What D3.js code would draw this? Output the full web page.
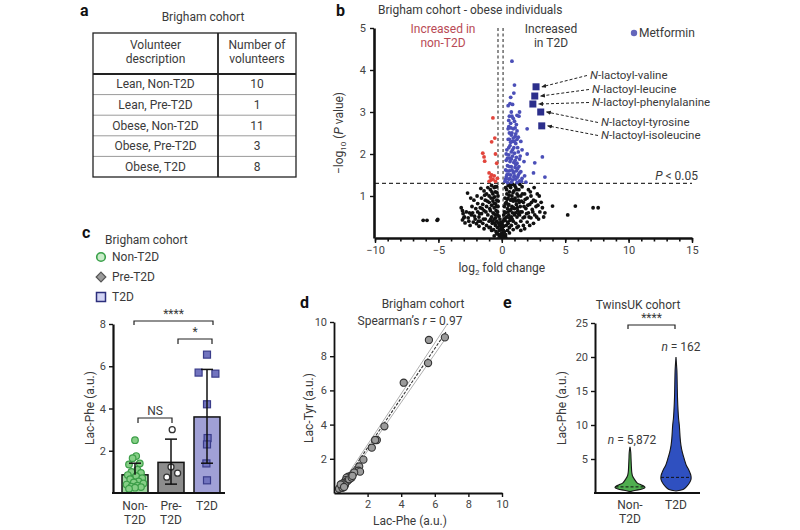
<!DOCTYPE html>
<html><head><meta charset="utf-8">
<script src="https://cdn.jsdelivr.net/npm/d3@7"></script>
<style>
body{margin:0;background:#fff}
text{font-family:Roboto,'Liberation Sans',Arial,sans-serif;fill:#3a3a3a}
</style>
</head><body>
<svg id="fig" width="800" height="530" xmlns="http://www.w3.org/2000/svg"></svg>
<script>
// ---------------- DATA ----------------
// Panel a
const tableHeader = [["Volunteer","description"],["Number of","volunteers"]];
const tableGroups = ["Lean, Non-T2D","Lean, Pre-T2D","Obese, Non-T2D","Obese, Pre-T2D","Obese, T2D"];
const tableCounts = [10,1,11,3,8];

// Panel b (log2 fold change, -log10 P)
const volcanoNS = [[-6.2,0.42],[-5.9,0.42],[-5.1,0.42],[-5.05,0.44],
[-3.2,0.72],[-3.1,0.65],[-3.0,0.48],[-3.1,0.43],[-2.9,0.36],[-2.7,1.07],[-2.6,0.4],[-2.5,0.3],[-2.4,0.55],[-2.3,0.6],[-2.2,0.9],[-2.1,0.45],[-2.0,0.34],[-1.9,0.82],[-1.9,0.62],[-1.8,0.5],[-1.8,0.28],[-1.7,0.72],[-1.7,0.4],[-1.6,0.95],[-1.6,0.58],[-1.5,0.35],[-1.5,0.8],[-1.4,0.65],[-1.4,1.12],[-1.3,0.45],[-1.3,0.9],[-1.2,0.3],[-1.2,0.75],[-1.2,1.05],[-1.1,0.55],[-1.1,1.2],[-1.0,0.4],[-1.0,0.85],[-1.0,1.0],[-0.9,0.25],[-0.9,0.65],[-0.9,1.15],[-0.85,0.95],[-0.8,0.5],[-0.8,0.78],[-0.8,1.25],[-0.75,0.35],[-0.7,0.6],[-0.7,1.05],[-0.7,0.88],[-0.65,0.2],[-0.6,0.45],[-0.6,0.72],[-0.6,1.2],[-0.55,0.98],[-0.5,0.3],[-0.5,0.55],[-0.5,0.82],[-0.5,1.1],[-0.45,0.15],[-0.45,0.65],[-0.4,0.4],[-0.4,0.9],[-0.4,1.22],[-0.35,0.25],[-0.35,0.55],[-0.3,0.1],[-0.3,0.75],[-0.3,1.0],[-0.25,0.35],[-0.2,0.05],[-0.2,0.18],[-0.15,0.45],[-0.1,0.08],[-0.1,0.28],[-0.05,0.02],[0,0.12],[0,0.35],[0.05,0.05],[0.05,0.2],[0.1,0.4],[0.1,0.1],[0.15,0.28],[0.15,0.55],[0.2,0.02],[0.2,0.15],[0.2,0.75],[0.25,0.42],[0.25,0.95],[0.3,0.08],[0.3,0.6],[0.3,1.2],[0.35,0.3],[0.35,0.85],[0.4,0.5],[0.4,1.05],[0.45,0.18],[0.45,0.7],[0.5,0.35],[0.5,0.95],[0.5,1.25],[0.55,0.55],[0.55,0.8],[0.6,0.25],[0.6,1.1],[0.65,0.65],[0.65,0.42],[0.7,0.9],[0.7,1.2],[0.75,0.5],[0.75,0.3],[0.8,0.75],[0.8,1.0],[0.85,0.6],[0.85,1.28],[0.9,0.4],[0.9,0.88],[0.95,1.12],[1.0,0.55],[1.0,0.7],[1.05,0.95],[1.1,0.35],[1.1,1.2],[1.15,0.8],[1.2,0.5],[1.2,1.05],[1.25,0.65],[1.3,0.9],[1.3,0.28],[1.35,1.15],[1.4,0.55],[1.45,0.75],[1.5,1.0],[1.5,0.4],[1.6,0.62],[1.6,1.22],[1.7,0.85],[1.7,0.3],[1.8,0.5],[1.8,1.05],[1.9,0.7],[2.0,0.95],[2.0,0.38],[2.1,1.15],[2.1,0.6],[2.2,0.8],[2.3,0.48],[2.3,1.0],[2.4,0.68],[2.5,0.9],[2.5,0.35],[2.6,0.55],[2.7,0.75],[2.8,1.05],[2.9,0.45],[3.0,0.62],[3.1,0.85],[3.3,0.5],[3.4,0.6],[4.0,0.76],[5.2,0.55],[5.8,0.76],[7.2,0.72],[7.6,0.72],
[-0.95,0.7],[-0.88,0.45],[-0.78,1.1],[-0.72,0.4],[-0.68,0.95],[-0.62,0.58],[-0.58,0.82],[-0.52,1.22],[-0.48,0.48],[-0.42,0.75],[-0.38,1.08],[-0.33,0.62],[-0.28,0.88],[-0.22,0.52],[-0.18,0.3],[-0.12,0.2],[-0.08,0.38],[0.02,0.25],[0.08,0.3],[0.12,0.18],[0.18,0.45],[0.22,0.62],[0.28,0.82],[0.32,0.48],[0.38,1.15],[0.42,0.92],[0.48,0.62],[0.52,0.78],[0.58,1.02],[0.62,0.48],[0.68,1.25],[0.72,0.68],[0.78,0.92],[0.82,0.45],[0.88,1.08],[0.92,0.72],[0.98,0.92],[1.02,1.25],[1.08,0.6],[1.12,0.88],[1.18,1.15],[1.22,0.72],[1.28,1.0],[1.32,0.58],[1.38,0.85],[1.42,1.28],[1.48,0.62],[1.55,0.88],[1.62,1.05],[1.68,0.48],[1.75,0.75],[1.85,0.92],[1.95,0.58],[2.05,0.78],[2.15,0.5],[2.25,1.1],[2.35,0.85],[2.45,0.62],[2.55,1.2],[2.65,0.88],[2.75,0.5],[2.85,0.78],[2.95,1.0],[3.2,0.72],[-1.15,0.88],[-1.25,0.62],[-1.35,1.02],[-1.45,0.45],[-1.55,0.7],[-1.65,1.18],[-1.75,0.58],[-1.85,0.4],[-1.95,1.0],[-2.05,0.7],[-2.15,0.52],[-2.25,0.38],[-2.35,0.75],[-2.45,0.95],[-2.55,0.6],[-2.65,0.48],[-2.8,0.62],[-2.95,0.5],[-3.05,0.58],[-0.6,0.05],[-0.4,0.1],[0.3,0.02],[0.6,0.12],[0.9,0.2],[-0.8,0.18],[1.2,0.25],[1.5,0.18],[-1.0,0.25],[-1.4,0.22],[1.8,0.22],[2.2,0.3],[0.45,0.38],[-0.55,0.35]];
const volcanoUp = [[0.8,4.21],[1.0,3.64],[0.95,3.45],[0.65,3.2],[0.85,3.18],[1.4,3.0],[0.7,2.73],[1.0,2.78],[1.15,2.7],[2.0,2.6],[0.9,2.6],[0.6,2.5],[1.2,2.55],[0.75,2.45],[1.05,2.42],[1.3,2.4],[0.5,2.35],[0.85,2.3],[1.1,2.25],[1.5,2.3],[0.65,2.2],[0.95,2.15],[1.25,2.15],[0.4,2.1],[0.75,2.05],[1.0,2.02],[1.6,2.1],[2.0,2.0],[3.2,1.93],[0.55,1.98],[0.85,1.95],[1.15,1.92],[1.4,1.88],[0.35,1.85],[0.65,1.82],[0.95,1.8],[1.2,1.78],[1.75,1.82],[2.6,1.79],[0.45,1.72],[0.75,1.7],[1.05,1.68],[1.35,1.7],[0.3,1.62],[0.6,1.6],[0.9,1.58],[1.15,1.6],[1.5,1.58],[2.5,1.55],[0.4,1.5],[0.7,1.5],[1.0,1.48],[1.3,1.5],[1.8,1.48],[3.4,1.45],[0.3,1.4],[0.55,1.4],[0.85,1.38],[1.1,1.4],[1.4,1.36],[1.9,1.33],[0.45,1.32],[0.75,1.33],[1.2,1.32],[0.25,1.35],[1.6,1.42],[0.5,2.6],[1.35,2.9],[0.8,2.9],[0.55,2.8],
[0.35,2.0],[0.45,1.9],[0.55,2.15],[0.6,2.35],[0.7,2.28],[0.8,2.5],[0.9,2.38],[1.0,2.3],[1.1,2.48],[1.2,2.35],[0.65,1.9],[0.75,1.88],[0.85,2.1],[1.05,1.85],[1.3,2.05],[1.45,1.95],[0.4,1.6],[0.5,1.52],[0.6,1.7],[0.8,1.62],[0.95,1.55],[1.1,1.75],[1.25,1.65],[1.4,1.55],[0.35,1.45],[0.65,1.42],[0.95,1.45],[1.25,1.45],[1.55,1.35],[0.6,2.9],[0.75,3.0],[0.9,2.85],[1.2,2.92],[0.55,2.65],[0.72,2.62],[1.05,2.62],[0.5,3.15],[0.7,3.35]];
const volcanoDown = [[-0.7,2.86],[-0.55,2.38],[-0.8,2.29],[-1.4,1.93],[-1.5,2.02],[-1.35,1.83],[-0.5,2.0],[-0.4,1.78],[-1.0,1.55],[-0.9,1.45],[-0.8,1.5],[-0.7,1.4],[-0.6,1.48],[-1.0,1.35],[-0.5,1.35],[-0.85,1.38],[-0.35,1.42]];
const lactoylNames = ["valine","leucine","phenylalanine","tyrosine","isoleucine"];
const lactoylFC = [2.7,2.6,2.45,3.07,3.15];
const lactoylP = [3.6,3.38,3.19,3.0,2.67];
const fcThresholds = [-0.3,0.1];
const pThreshold = 0.05;
const volcanoXTicks = [-10,-5,0,5,10,15];
const volcanoYTicks = [1,2,3,4,5];

// Panel c
const groups = ["Non-T2D","Pre-T2D","T2D"];
const barMean = [0.86,1.45,3.6];
const barLow = [null,0.42,1.41];
const barHigh = [1.41,2.55,5.85];
const nonT2DVals = [2.5,1.75,1.65,1.4,1.35,1.1,1.0,0.95,0.85,0.8,0.7,0.65,0.55,0.5,0.45,0.4,0.35,0.3,0.28,0.25,0.2];
const nonT2DJit = [0,0.1,-0.2,0.4,-0.5,0.2,-0.3,0.5,-0.6,0.1,0.6,-0.4,0.3,-0.1,0.7,-0.7,0.2,-0.3,0.5,0.0,-0.5];
const preT2DVals = [3.0,1.23,0.94,0.75];
const preT2DJit = [0.1,0.0,0.55,-0.35];
const t2dVals = [6.55,5.7,5.65,4.2,2.6,2.3,1.4,0.6];
const t2dJit = [0.0,-0.7,0.7,0.0,0.05,0.0,-0.05,0.0];
const cTicks = [2,4,6,8];

// Panel d
const lacPhe = [6.6,5.65,5.6,4.15,3.0,2.55,2.45,2.25,1.75,1.5,1.45,1.55,1.2,1.0,0.95,0.85,0.75,0.7,0.8,0.6,0.55,0.5,0.45,0.4,0.35,0.3,0.5,0.65,0.9,1.05,0.4,0.6,1.1];
const lacTyr = [9.1,8.95,7.6,6.45,3.9,3.1,3.1,2.65,1.95,1.55,1.3,1.25,1.2,1.0,0.85,0.95,0.9,0.75,0.7,0.6,0.5,0.55,0.4,0.35,0.3,0.25,0.3,0.45,0.8,0.9,0.5,0.35,1.0];
const regSlope = 1.45, regIntercept = -0.25;
const regXRange = [0.25,6.7];
const ciHalfAtEnds = [0.12,0.35];
const dTicks = [2,4,6,8,10];

// Panel e (relative density profiles: value, density 0-1)
const violinNon = [[0.2,0],[0.4,0.4],[0.6,0.8],[0.8,1],[1.0,0.93],[1.2,0.73],[1.5,0.47],[2,0.3],[2.5,0.17],[3,0.12],[4,0.09],[5,0.07],[6,0.05],[6.8,0]];
const violinT2D = [[0.3,0],[0.5,0.47],[1,0.73],[1.5,0.9],[2,1],[2.5,1],[3,0.93],[3.5,0.83],[4,0.7],[5,0.55],[6,0.42],[7,0.33],[8,0.28],[9,0.25],[10,0.22],[11,0.17],[12,0.14],[14,0.1],[16,0.08],[18,0.06],[20,0]];
const violinMedian = [0.9,2.3];
const violinN = ["5,872","162"];
const eGroups = ["Non-T2D","T2D"];
const eTicks = [5,10,15,20,25];

// ---------------- DRAW ----------------
const FS = 12;
const svg = d3.select("#fig");
svg.append("rect").attr("width",800).attr("height",530).attr("fill","#fff");
const defs = svg.append("defs");
defs.append("marker").attr("id","arr").attr("viewBox","0 0 6 6").attr("refX",5).attr("refY",3)
  .attr("markerWidth",5).attr("markerHeight",5).attr("orient","auto")
  .append("path").attr("d","M0,0.5 L6,3 L0,5.5 z").attr("fill","#222");

function T(x,y,s,o={}){
  const t = svg.append("text").attr("x",x).attr("y",y).text(s)
    .style("font-size",(o.size||FS)+"px").attr("text-anchor",o.anchor||"start");
  if(o.weight) t.style("font-weight",o.weight);
  if(o.fill) t.style("fill",o.fill);
  if(o.italic) t.style("font-style","italic");
  return t;
}
function styleAxis(g,w){
  g.attr("font-family",null).attr("font-size",null);
  g.select(".domain").attr("stroke","#111").attr("stroke-width",w||2);
  g.selectAll(".tick line").attr("stroke","#111").attr("stroke-width",1.4);
  g.selectAll(".tick text").style("font-size","11px").style("fill","#444");
}
const fmt = d3.format("d");

// ===== Panel a =====
T(80,16,"a",{size:16,weight:"bold"}).style("fill","#111");
T(203,21,"Brigham cohort",{anchor:"middle"});
const tx0=93, tx1=218, tx2=296, ty0=33, tyH=74, rowH=20.6;
const rowY = d3.range(tableGroups.length+1).map(i=>tyH+i*rowH);
svg.selectAll(".rowline").data(rowY.slice(1,-1)).join("line")
  .attr("x1",tx0).attr("x2",tx2).attr("y1",d=>d).attr("y2",d=>d)
  .attr("stroke","#9a9a9a").attr("stroke-width",1);
svg.append("rect").attr("x",tx0).attr("y",ty0).attr("width",tx2-tx0).attr("height",rowY[rowY.length-1]-ty0)
  .attr("fill","none").attr("stroke","#222").attr("stroke-width",1.3);
svg.append("line").attr("x1",tx0).attr("x2",tx2).attr("y1",tyH).attr("y2",tyH).attr("stroke","#222").attr("stroke-width",1.8);
svg.append("line").attr("x1",tx1).attr("x2",tx1).attr("y1",ty0).attr("y2",rowY[rowY.length-1]).attr("stroke","#222").attr("stroke-width",1.8);
[(tx0+tx1)/2,(tx1+tx2)/2].forEach((cx,i)=>{
  T(cx,49,tableHeader[i][0],{anchor:"middle"});
  T(cx,63,tableHeader[i][1],{anchor:"middle"});
});
tableGroups.forEach((g,i)=>{
  const cy=(rowY[i]+rowY[i+1])/2+4;
  T((tx0+tx1)/2,cy,g,{anchor:"middle"});
  T((tx1+tx2)/2,cy,String(tableCounts[i]),{anchor:"middle"});
});

// ===== Panel b =====
T(336,16,"b",{size:16,weight:"bold"}).style("fill","#111");
T(378,14,"Brigham cohort - obese individuals");
const xb = d3.scaleLinear().domain([-10,15]).range([375,692]);
const yb = d3.scaleLinear().domain([0,5]).range([238,28]);
svg.selectAll(".vth").data(fcThresholds).join("line")
  .attr("x1",d=>xb(d)).attr("x2",d=>xb(d)).attr("y1",yb(5)).attr("y2",yb(0))
  .attr("stroke","#444").attr("stroke-width",1.2).attr("stroke-dasharray","3,2.5");
svg.append("line").attr("x1",xb(-10)).attr("x2",xb(15)).attr("y1",yb(-Math.log10(pThreshold))).attr("y2",yb(-Math.log10(pThreshold)))
  .attr("stroke","#333").attr("stroke-width",1.2).attr("stroke-dasharray","4,3");
svg.append("g").selectAll("circle").data(volcanoNS).join("circle")
  .attr("cx",d=>xb(d[0])).attr("cy",d=>yb(d[1])).attr("r",1.9).attr("fill","#111");
svg.append("g").selectAll("circle").data(volcanoUp).join("circle")
  .attr("cx",d=>xb(d[0])).attr("cy",d=>yb(d[1])).attr("r",1.9).attr("fill","#4b4fb8");
svg.append("g").selectAll("circle").data(volcanoDown).join("circle")
  .attr("cx",d=>xb(d[0])).attr("cy",d=>yb(d[1])).attr("r",1.9).attr("fill","#e2453c");
const gbx = svg.append("g").attr("transform",`translate(0,${yb(0)})`)
  .call(d3.axisBottom(xb).tickValues(volcanoXTicks).tickSize(5).tickSizeOuter(0).tickPadding(3).tickFormat(fmt));
styleAxis(gbx,2.6);
const gbm = svg.append("g").attr("transform",`translate(0,${yb(0)})`)
  .call(d3.axisBottom(xb).tickValues(d3.range(-10,16)).tickSize(3.5).tickFormat(""));
gbm.select(".domain").remove();
gbm.selectAll(".tick line").attr("stroke","#111").attr("stroke-width",1.6);
const gby = svg.append("g").attr("transform",`translate(${xb(-10)-1},0)`)
  .call(d3.axisLeft(yb).tickValues(volcanoYTicks).tickSize(4).tickSizeOuter(0).tickPadding(4).tickFormat(fmt));
styleAxis(gby,2.6);
const ylb = svg.append("text").attr("transform",`translate(343,133) rotate(-90)`).attr("text-anchor","middle").style("font-size",FS+"px");
ylb.append("tspan").text("\u2212log");
ylb.append("tspan").text("10").attr("dy",3).style("font-size","8px");
ylb.append("tspan").text(" (").attr("dy",-3);
ylb.append("tspan").text("P").style("font-style","italic");
ylb.append("tspan").text(" value)");
const xlb = svg.append("text").attr("x",xb(0)).attr("y",272).attr("text-anchor","middle").style("font-size",FS+"px");
xlb.append("tspan").text("log");
xlb.append("tspan").text("2").attr("dy",3).style("font-size","8px");
xlb.append("tspan").text(" fold change").attr("dy",-3);
const pt = svg.append("text").attr("x",698).attr("y",180).attr("text-anchor","end").style("font-size",FS+"px");
pt.append("tspan").text("P").style("font-style","italic");
pt.append("tspan").text(" < 0.05");
T(443,33,"Increased in",{anchor:"middle",fill:"#b94a55"});
T(443,47,"non-T2D",{anchor:"middle",fill:"#b94a55"});
T(551,33,"Increased",{anchor:"middle"});
T(551,47,"in T2D",{anchor:"middle"});
svg.append("circle").attr("cx",634).attr("cy",33).attr("r",3.2).attr("fill","#6466bb");
T(639,37,"Metformin");
const labX = [590,592,592,601,601], labY = [79,93,106,126,139];
lactoylNames.forEach((n,i)=>{
  const sx=xb(lactoylFC[i]), sy=yb(lactoylP[i]);
  svg.append("line").attr("x1",labX[i]-3).attr("y1",labY[i]-3.5).attr("x2",sx+6).attr("y2",sy)
    .attr("stroke","#222").attr("stroke-width",1).attr("stroke-dasharray","3,2").attr("marker-end","url(#arr)");
  svg.append("rect").attr("x",sx-3.5).attr("y",sy-3.5).attr("width",7).attr("height",7).attr("fill","#2c2f8c");
  const t = T(labX[i],labY[i],"",{size:11.5});
  t.append("tspan").text("N").style("font-style","italic");
  t.append("tspan").text("-lactoyl-"+n);
});

// ===== Panel c =====
T(82,238,"c",{size:16,weight:"bold"}).style("fill","#111");
T(105,244,"Brigham cohort");
svg.append("circle").attr("cx",101).attr("cy",257).attr("r",4.3).attr("fill","#c9ecc9").attr("stroke","#3aa14a").attr("stroke-width",1.6);
T(112,261,"Non-T2D");
svg.append("path").attr("d",d3.symbol(d3.symbolDiamond2,60)()).attr("transform","translate(101,277)")
  .attr("fill","#9a9a9a").attr("stroke","#555").attr("stroke-width",1.2);
T(112,281,"Pre-T2D");
svg.append("rect").attr("x",96.5).attr("y",292.5).attr("width",9).attr("height",9).attr("fill","#d2d4f4").attr("stroke","#2c2f7c").attr("stroke-width",1.5);
T(112,301,"T2D");

const xc = d3.scalePoint().domain(groups).range([117,225]).padding(0.5);
const yc = d3.scaleLinear().domain([0,8]).range([493,324]);
const bw = 26;
const barFill = ["#9fd69f","#8c8c8c","#a0a0d6"];
svg.selectAll(".bar").data(groups).join("rect")
  .attr("x",d=>xc(d)-bw/2).attr("width",bw).attr("y",(d,i)=>yc(barMean[i])).attr("height",(d,i)=>yc(0)-yc(barMean[i]))
  .attr("fill",(d,i)=>barFill[i]).attr("stroke","#111").attr("stroke-width",1.5);
svg.append("g").selectAll("circle").data(nonT2DVals).join("circle")
  .attr("cx",(d,i)=>xc("Non-T2D")+nonT2DJit[i]*12).attr("cy",d=>yc(d)).attr("r",3.3)
  .attr("fill","#86cf86").attr("stroke","#3c9e48").attr("stroke-width",1.2);
svg.append("g").selectAll("circle").data(preT2DVals).join("circle")
  .attr("cx",(d,i)=>xc("Pre-T2D")+preT2DJit[i]*12).attr("cy",d=>yc(d)).attr("r",3)
  .attr("fill","#fff").attr("stroke","#333").attr("stroke-width",1.3);
svg.append("g").selectAll("rect").data(t2dVals).join("rect")
  .attr("x",(d,i)=>xc("T2D")+t2dJit[i]*12-3.5).attr("y",d=>yc(d)-3.5).attr("width",7).attr("height",7)
  .attr("fill","#7274bf").attr("stroke","#3a3c8a").attr("stroke-width",1.2);
groups.forEach((g,i)=>{
  const cx=xc(g), lo=barLow[i]==null?barMean[i]:barLow[i];
  svg.append("line").attr("x1",cx).attr("x2",cx).attr("y1",yc(lo)).attr("y2",yc(barHigh[i])).attr("stroke","#111").attr("stroke-width",1.5);
  svg.append("line").attr("x1",cx-6).attr("x2",cx+6).attr("y1",yc(barHigh[i])).attr("y2",yc(barHigh[i])).attr("stroke","#111").attr("stroke-width",1.5);
  if(barLow[i]!=null) svg.append("line").attr("x1",cx-6).attr("x2",cx+6).attr("y1",yc(lo)).attr("y2",yc(lo)).attr("stroke","#111").attr("stroke-width",1.5);
});
const gcy = svg.append("g").attr("transform","translate(113,0)")
  .call(d3.axisLeft(yc).tickValues(cTicks).tickSize(4).tickSizeOuter(0).tickPadding(3));
styleAxis(gcy,2.2);
svg.append("line").attr("x1",112).attr("x2",225).attr("y1",493).attr("y2",493).attr("stroke","#111").attr("stroke-width",2.2);
svg.append("text").attr("transform","translate(94,408) rotate(-90)").attr("text-anchor","middle").style("font-size",FS+"px").text("Lac-Phe (a.u.)");
T(xc("Non-T2D"),510,"Non-",{anchor:"middle"}); T(xc("Non-T2D"),524,"T2D",{anchor:"middle"});
T(xc("Pre-T2D"),510,"Pre-",{anchor:"middle"}); T(xc("Pre-T2D"),524,"T2D",{anchor:"middle"});
T(xc("T2D"),510,"T2D",{anchor:"middle"});
function bracket(x1,x2,y,drop,label,ly){
  svg.append("path").attr("d",`M${x1},${y+drop}V${y}H${x2}V${y+drop}`).attr("fill","none").attr("stroke","#222").attr("stroke-width",1.2);
  T((x1+x2)/2,ly,label,{anchor:"middle",size:FS});
}
bracket(134,213,321,4,"****",318);
bracket(178,212,339,5,"*",336);
bracket(138,172,418,5,"NS",415);

// ===== Panel d =====
T(300,308,"d",{size:16,weight:"bold"}).style("fill","#111");
T(423,308,"Brigham cohort",{anchor:"middle"});
const sp = T(410,325,"Spearman\u2019s ",{anchor:"middle"});
sp.append("tspan").text("r").style("font-style","italic");
sp.append("tspan").text(" = 0.97");
const xd = d3.scaleLinear().domain([0,10]).range([334,502]);
const yd = d3.scaleLinear().domain([0,10]).range([493,322]);
const regY = x=>regSlope*x+regIntercept;
[-1,1].forEach(s=>{
  svg.append("line").attr("x1",xd(regXRange[0])).attr("x2",xd(regXRange[1]))
    .attr("y1",yd(regY(regXRange[0])+s*ciHalfAtEnds[0])).attr("y2",yd(regY(regXRange[1])+s*ciHalfAtEnds[1]))
    .attr("stroke","#b0b0b0").attr("stroke-width",1);
});
svg.append("line").attr("x1",xd(regXRange[0])).attr("x2",xd(regXRange[1]))
  .attr("y1",yd(regY(regXRange[0]))).attr("y2",yd(regY(regXRange[1])))
  .attr("stroke","#333").attr("stroke-width",1.1).attr("stroke-dasharray","3,1.5");
svg.append("g").selectAll("circle").data(lacPhe).join("circle")
  .attr("cx",d=>xd(d)).attr("cy",(d,i)=>yd(lacTyr[i])).attr("r",3.6)
  .attr("fill","#9b9b9b").attr("stroke","#333").attr("stroke-width",1.1);
const gdx = svg.append("g").attr("transform",`translate(0,${yd(0)})`)
  .call(d3.axisBottom(xd).tickValues(dTicks).tickSize(4).tickSizeOuter(0).tickPadding(3));
styleAxis(gdx,1.8);
const gdy = svg.append("g").attr("transform",`translate(${xd(0)},0)`)
  .call(d3.axisLeft(yd).tickValues(dTicks).tickSize(4).tickSizeOuter(0).tickPadding(3));
styleAxis(gdy,1.8);
T(410,525,"Lac-Phe (a.u.)",{anchor:"middle"});
svg.append("text").attr("transform","translate(313,408) rotate(-90)").attr("text-anchor","middle").style("font-size",FS+"px").text("Lac-Tyr (a.u.)");

// ===== Panel e =====
T(503,308,"e",{size:16,weight:"bold"}).style("fill","#111");
T(638,309,"TwinsUK cohort",{anchor:"middle"});
const xe = d3.scalePoint().domain(eGroups).range([607,699]).padding(0.5);
const ye = d3.scaleLinear().domain([0,25]).range([493,323]);
const vmax = 15;
const vFill = ["#4fae4f","#2f50c0"];
const profiles = [violinNon, violinT2D];
function halfW(prof,v){
  for(let k=0;k<prof.length-1;k++){
    if(v>=prof[k][0] && v<=prof[k+1][0]){
      const t=(v-prof[k][0])/(prof[k+1][0]-prof[k][0]);
      return (prof[k][1]+t*(prof[k+1][1]-prof[k][1]))*vmax;
    }
  }
  return 0;
}
eGroups.forEach((g,i)=>{
  const cx = xe(g);
  const area = d3.area().curve(d3.curveCatmullRom)
    .y(d=>ye(d[0])).x0(d=>cx-d[1]*vmax).x1(d=>cx+d[1]*vmax);
  svg.append("path").attr("d",area(profiles[i])).attr("fill",vFill[i]).attr("stroke","#161616").attr("stroke-width",1.1);
  const w = halfW(profiles[i],violinMedian[i]);
  svg.append("line").attr("x1",cx-w).attr("x2",cx+w).attr("y1",ye(violinMedian[i])).attr("y2",ye(violinMedian[i]))
    .attr("stroke","#111").attr("stroke-width",1).attr("stroke-dasharray","3,2");
});
const gey = svg.append("g").attr("transform","translate(595,0)")
  .call(d3.axisLeft(ye).tickValues(eTicks).tickSize(4).tickSizeOuter(0).tickPadding(3));
styleAxis(gey,2);
svg.append("line").attr("x1",594).attr("x2",700).attr("y1",493).attr("y2",493).attr("stroke","#111").attr("stroke-width",2);
svg.append("text").attr("transform","translate(566,408) rotate(-90)").attr("text-anchor","middle").style("font-size",FS+"px").text("Lac-Phe (a.u.)");
const nPos = [[xe("Non-T2D")+2,444],[xe("T2D")+5,351]];
violinN.forEach((n,i)=>{
  const t = T(nPos[i][0],nPos[i][1],"",{anchor:"middle"});
  t.append("tspan").text("n").style("font-style","italic");
  t.append("tspan").text(" = "+n);
});
T(xe("Non-T2D"),509,"Non-",{anchor:"middle"}); T(xe("Non-T2D"),523,"T2D",{anchor:"middle"});
T(xe("T2D"),509,"T2D",{anchor:"middle"});
bracket(628,675,325,4,"****",322);
</script>
</body></html>
